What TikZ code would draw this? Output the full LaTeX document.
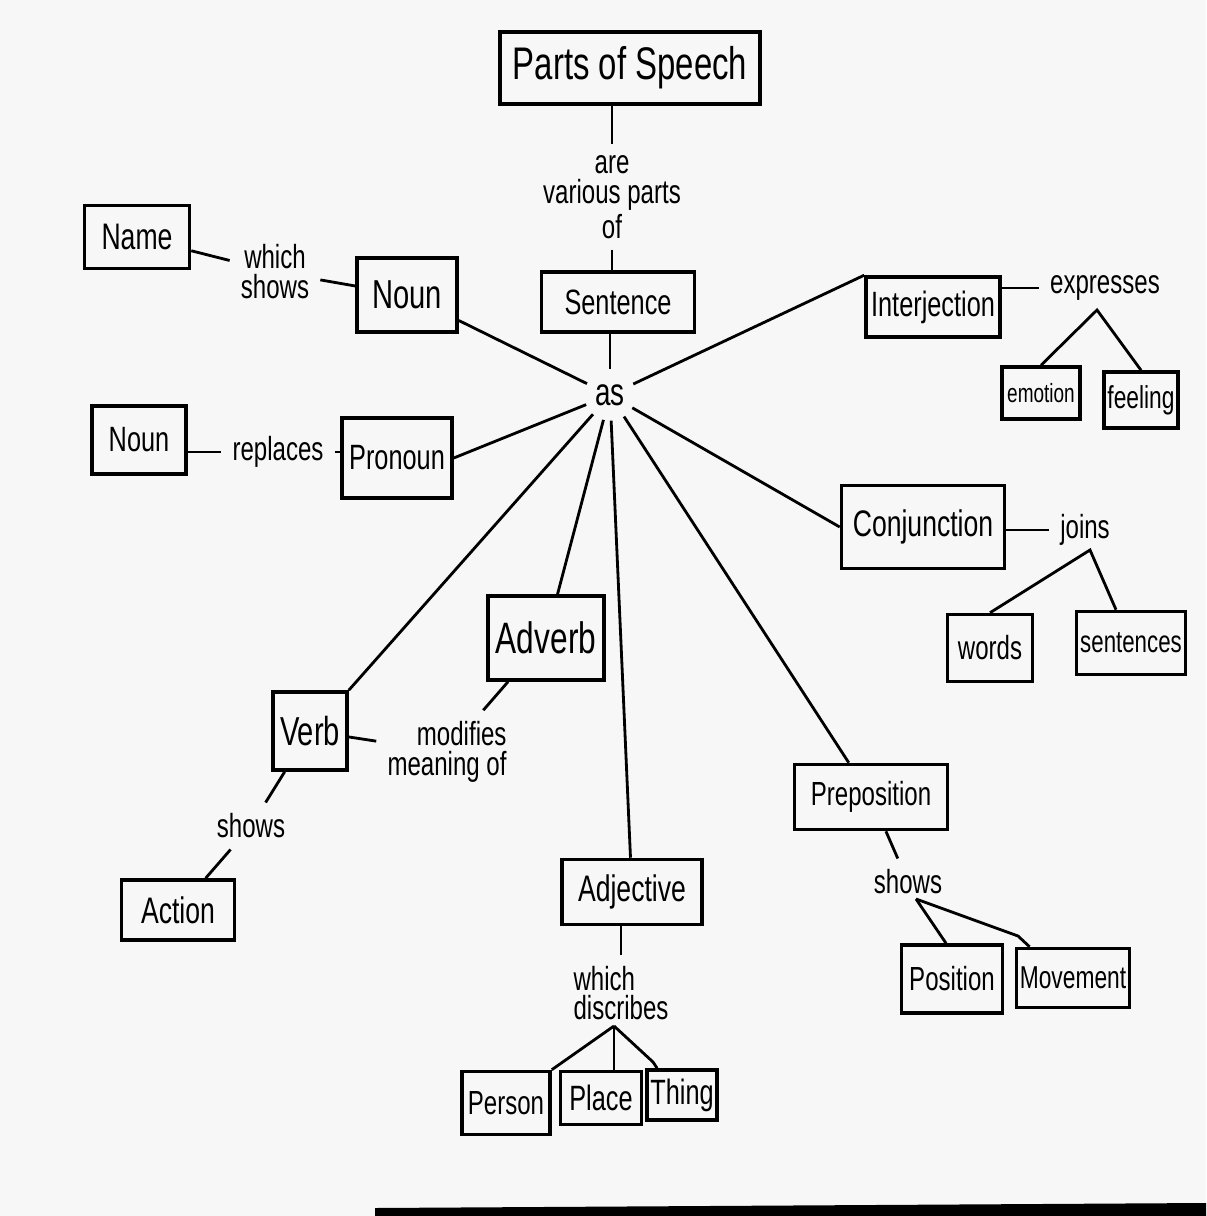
\documentclass[tikz,border=0pt]{standalone}
\usepackage{fontspec}
\setmainfont{Liberation Sans}[FakeStretch=0.72]
\usetikzlibrary{positioning,calc}
\newcommand{\handsize}[1]{\fontsize{#1}{#1}\selectfont}
\tikzstyle{box} = [rectangle, draw, line width=1pt, inner sep=1pt, text centered, font=\handsize{10.5}]
\tikzstyle{lbl} = [inner sep=3pt, align=center, font=\fontsize{9.5}{8.5}\selectfont]
\tikzstyle{con} = [line width=0.8pt]

\begin{document}
\begin{tikzpicture}[x=0.01cm, y=-0.01cm]
    \fill[black!3] (0,0) rectangle (1206,1216);
    \useasboundingbox (0,0) rectangle (1206,1216);
    \fill[black] (375,1208) -- (1206,1203) -- (1206,1216) -- (375,1216) -- cycle;

    % centre column
    \node[box, font=\handsize{13}, minimum width=2.6cm, minimum height=0.72cm] (pos) at (630,68) {Parts of Speech};
    \node[lbl] (are) at (612,197) {are\\various parts\\of};
    \node[box, font=\handsize{10}, minimum width=1.53cm, minimum height=0.6cm] (sent) at (618,302) {Sentence};
    \node[circle, inner sep=0pt, minimum size=0.5cm, font=\handsize{11}] (as) at (610,395) {as};

    \draw[con] (are.north |- pos.south) -- (are.north);
    \draw[con] (are.south) -- (are.south |- sent.north);
    \draw[con] (as.north |- sent.south) -- (as.north);

    % left side
    \node[box, minimum width=1.05cm, minimum height=0.63cm] (name) at (137,237) {Name};
    \node[lbl] (which) at (275,272) {which\\shows};
    \node[box, font=\handsize{11.5}, minimum width=1cm, minimum height=0.74cm] (noun) at (407,295) {Noun};
    \node[box, font=\handsize{10}, minimum width=0.94cm, minimum height=0.68cm] (noun2) at (139,440) {Noun};
    \node[lbl] (repl) at (278,452) {replaces};
    \node[box, font=\handsize{10}, minimum width=1.1cm, minimum height=0.8cm] (pronoun) at (397,458) {Pronoun};

    \draw[con] (name) -- (which);
    \draw[con] (which) -- (noun);
    \draw[con] (noun2.east |- repl.west) -- (repl.west);
    \draw[con] (repl.east) -- (repl.east -| pronoun.west);

    % right side
    \node[box, font=\handsize{10}, minimum width=1.34cm, minimum height=0.6cm] (interj) at (933,307) {Interjection};
    \node[lbl] (expr) at (1105,288) {expresses};
    \node[box, font=\handsize{7.5}, minimum width=0.78cm, minimum height=0.52cm] (emotion) at (1041,393) {emotion};
    \node[box, font=\handsize{9}, minimum width=0.74cm, minimum height=0.56cm] (feeling) at (1141,400) {feeling};
    \coordinate (exprfork) at (1097,310);

    \draw[con] (interj.east |- expr.west) -- (expr.west);
    \draw[con] (emotion.north) -- (exprfork) -- (feeling.north);

    \node[box, minimum width=1.63cm, minimum height=0.83cm] (conj) at (923,527) {Conjunction};
    \node[lbl] (joins) at (1085,530) {joins};
    \node[box, font=\handsize{9.5}, minimum width=0.85cm, minimum height=0.67cm] (words) at (990,648) {words};
    \node[box, font=\handsize{8.8}, minimum width=1.09cm, minimum height=0.63cm] (sentences) at (1131,643) {sentences};
    \coordinate (joinsfork) at (1090,550);

    \draw[con] (conj.east |- joins.west) -- (joins.west);
    \draw[con] (words.north) -- (joinsfork) -- ([xshift=-0.15cm]sentences.north);

    % lower part
    \node[box, font=\handsize{12.5}, minimum width=1.16cm, minimum height=0.84cm] (adverb) at (546,638) {Adverb};
    \node[lbl, align=right] (modif) at (447,752) {modifies\\meaning of};
    \node[box, font=\handsize{11.5}, minimum width=0.74cm, minimum height=0.78cm] (verb) at (310,731) {Verb};
    \node[lbl] (shows) at (251,826) {shows};
    \node[box, minimum width=1.13cm, minimum height=0.6cm] (action) at (178,910) {Action};

    \draw[con] (adverb) -- (modif);
    \draw[con] (verb) -- (modif);
    \draw[con] (verb) -- (shows);
    \draw[con] (shows) -- (action);

    \node[box, minimum width=1.4cm, minimum height=0.65cm] (adj) at (632,892) {Adjective};
    \node[lbl, align=left] (disc) at (621,993) {which\\discribes};
    \node[box, font=\handsize{9.5}, minimum width=0.88cm, minimum height=0.63cm] (person) at (506,1103) {Person};
    \node[box, font=\handsize{10}, minimum width=0.81cm, minimum height=0.53cm] (place) at (601,1098) {Place};
    \node[box, font=\handsize{10}, minimum width=0.68cm, minimum height=0.5cm] (thing) at (682,1095) {Thing};
    \coordinate (discfork) at (614,1026);

    \draw[con] (disc.north |- adj.south) -- (disc.north);
    \draw[con] (discfork) -- (person.north east);
    \draw[con] (discfork) -- (discfork |- place.north);
    \draw[con] (discfork) -- ++(39,36) -- ([xshift=0.12cm]thing.north west);

    \node[box, font=\handsize{9.5}, minimum width=1.53cm, minimum height=0.65cm] (prep) at (871,797) {Preposition};
    \node[lbl] (shows2) at (908,882) {shows};
    \node[box, font=\handsize{9.5}, minimum width=1.01cm, minimum height=0.68cm] (position) at (952,979) {Position};
    \node[box, font=\handsize{9}, minimum width=1.13cm, minimum height=0.59cm] (movement) at (1073,978) {Movement};
    \coordinate (showsfork) at (916,899);

    \draw[con] (prep) -- (shows2);
    \draw[con] (showsfork) -- ([xshift=-0.06cm]position.north);
    \draw[con] (showsfork) -- (1018,936) -- ([xshift=0.15cm]movement.north west);

    % spokes from "as"
    \draw[con] (as) -- (noun);
    \draw[con] (as) -- (pronoun.east);
    \draw[con] (as) -- (verb.north east);
    \draw[con] (as) -- (adverb);
    \draw[con] (as) -- (adj);
    \draw[con] (as) -- (prep);
    \draw[con] (as) -- (conj.west);
    \draw[con] (as) -- (interj.north west);
\end{tikzpicture}
\end{document}
